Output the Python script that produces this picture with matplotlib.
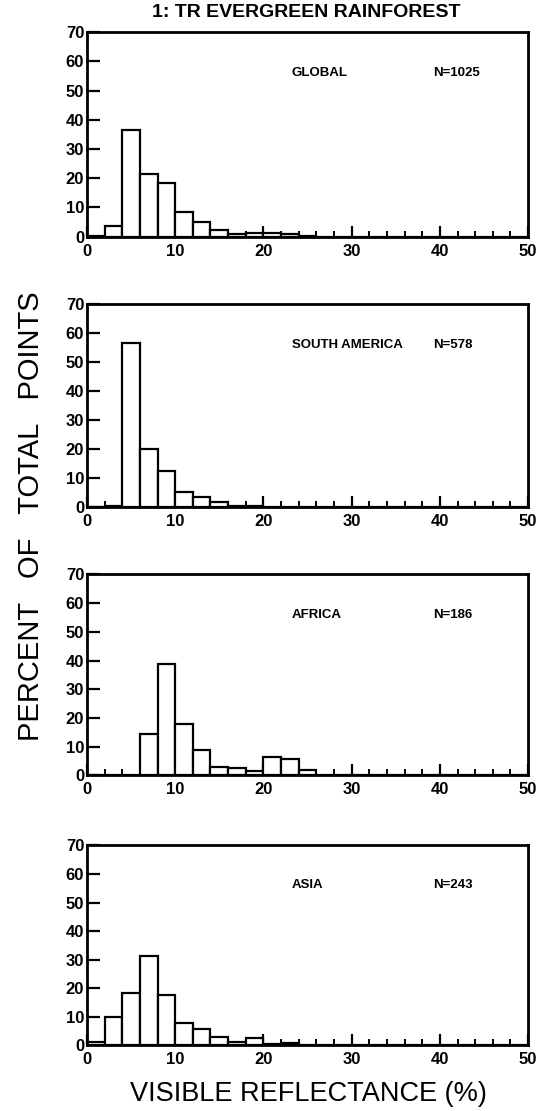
"""
Reflectance histograms for the tropical evergreen rainforest class:
global sample and the three continental subsets, stacked vertically.
"""

import matplotlib
matplotlib.use("Agg")
import matplotlib.pyplot as plt
import numpy as np
from matplotlib.ticker import MultipleLocator

# ---------------------------------------------------------------------------
# Data: percent of points per 2 % reflectance bin (0-2, 2-4, ..., 48-50)
# ---------------------------------------------------------------------------
bin_edges = np.arange(0, 52, 2)

global_pct = [0.3, 3.5, 36.5, 21.3, 18.4, 8.5, 5.0, 2.4, 0.9, 1.3, 1.2, 1.0, 0.3,
              0, 0, 0, 0, 0, 0, 0, 0, 0, 0, 0, 0]
samerica_pct = [0, 0.3, 56.6, 19.8, 12.4, 5.1, 3.2, 1.6, 0.3, 0.2, 0, 0, 0,
                0, 0, 0, 0, 0, 0, 0, 0, 0, 0, 0, 0]
africa_pct = [0, 0, 0.3, 14.6, 38.7, 17.9, 9.0, 3.0, 2.5, 1.5, 6.5, 5.9, 1.8,
              0, 0, 0, 0, 0, 0, 0, 0, 0, 0, 0, 0]
asia_pct = [1.3, 9.8, 18.2, 31.3, 17.8, 7.8, 5.9, 2.8, 1.2, 2.7, 0.5, 0.8, 0,
            0, 0, 0, 0, 0, 0, 0, 0, 0, 0, 0, 0]

regions = ["GLOBAL", "SOUTH AMERICA", "AFRICA", "ASIA"]
counts = ["N=1025", "N=578", "N=186", "N=243"]
series = [global_pct, samerica_pct, africa_pct, asia_pct]

title = "1: TR EVERGREEN RAINFOREST"

# ---------------------------------------------------------------------------
# Style
# ---------------------------------------------------------------------------
plt.rcParams.update({
    "font.family": ["Liberation Sans", "DejaVu Sans"],
    "axes.linewidth": 2.0,
    "xtick.direction": "in",
    "ytick.direction": "in",
    "xtick.major.width": 1.6,
    "ytick.major.width": 1.6,
    "xtick.minor.width": 1.4,
})

fig = plt.figure(figsize=(5.4, 11.11), dpi=100)

# axes boxes in figure fraction: [left, bottom, width, height]
boxes = [
    [0.161, 0.787, 0.817, 0.184],
    [0.161, 0.544, 0.817, 0.182],
    [0.161, 0.302, 0.817, 0.181],
    [0.161, 0.059, 0.817, 0.180],
]

for box, name, n, vals in zip(boxes, regions, counts, series):
    ax = fig.add_axes(box)
    ax.bar(bin_edges[:-1], vals, width=2, align="edge",
           facecolor="white", edgecolor="black", linewidth=1.6, zorder=2)

    ax.set_xlim(0, 50)
    ax.set_ylim(0, 70)

    ax.xaxis.set_major_locator(MultipleLocator(10))
    ax.xaxis.set_minor_locator(MultipleLocator(2))
    ax.yaxis.set_major_locator(MultipleLocator(10))
    ax.tick_params(axis="x", which="major", length=8, pad=5, labelsize=12)
    ax.tick_params(axis="x", which="minor", length=4.5)
    ax.tick_params(axis="y", which="major", length=9, pad=2, labelsize=12)
    for lab in ax.get_xticklabels() + ax.get_yticklabels():
        lab.set_fontweight("bold")

    ax.text(23.2, 56, name, fontsize=9.5, fontweight="bold", va="center", ha="left")
    ax.text(39.2, 56, n, fontsize=9.5, fontweight="bold", va="center", ha="left")

fig.text(0.568, 0.989, title, fontsize=14, fontweight="bold",
         ha="center", va="center")
fig.text(0.058, 0.535, "PERCENT   OF   TOTAL   POINTS", fontsize=21,
         rotation=90, ha="center", va="center")
fig.text(0.572, 0.015, "VISIBLE REFLECTANCE (%)", fontsize=19.5,
         ha="center", va="center")

fig.savefig("out.png", dpi=100)
